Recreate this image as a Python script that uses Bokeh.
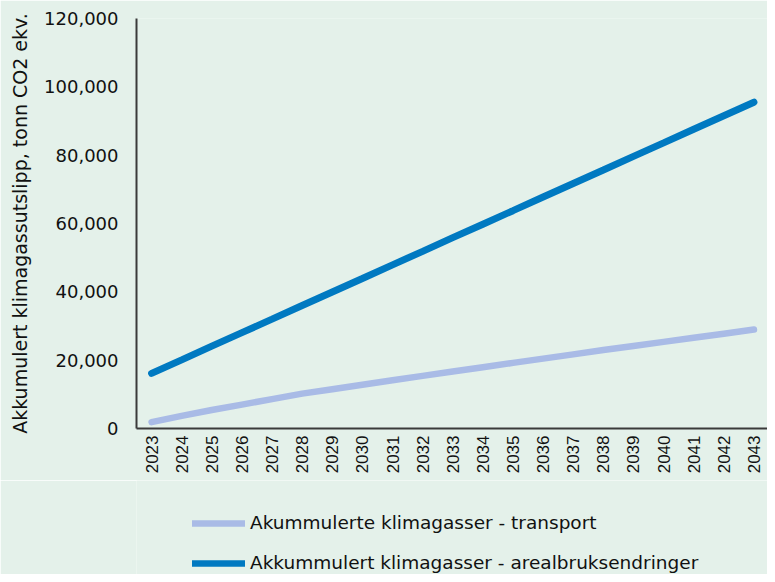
from bokeh.plotting import figure
from bokeh.layouts import column
from bokeh.models import Legend, LegendItem, NumeralTickFormatter, FixedTicker, Range1d
from bokeh.embed import file_html
from bokeh.resources import INLINE

years = list(range(2023, 2044))
transport = [1850, 3700, 5400, 7000, 8600, 10200, 11500, 12800, 14100, 15400,
             16700, 17950, 19200, 20450, 21700, 22950, 24150, 25350, 26550, 27750, 28950]
arealbruk = [16150, 20100, 24100, 28050, 32000, 36000, 39950, 43900, 47900, 51850,
             55850, 59800, 63750, 67750, 71700, 75650, 79650, 83600, 87600, 91550, 95500]
y_ticks = [0, 20000, 40000, 60000, 80000, 100000, 120000]
label_transport = "Akummulerte klimagasser - transport"
label_areal = "Akkummulert klimagasser - arealbruksendringer"
y_title = "Akkumulert klimagassutslipp, tonn CO2 ekv."

BG = "#e4f1ea"
C_TRANSPORT = "#a9bbe6"
C_AREAL = "#0079c1"
LEFT = 136
X_END = 2043.45

p = figure(width=767, height=480, x_range=Range1d(2022.5, X_END), y_range=Range1d(0, 120000),
           output_backend="svg", toolbar_location=None,
           background_fill_color=BG, border_fill_color=BG,
           min_border_left=LEFT, min_border_top=18, min_border_right=0, min_border_bottom=52)
p.outline_line_color = None
p.grid.grid_line_color = None

p.line(years, transport, line_color=C_TRANSPORT, line_width=6.5, line_cap="round")
p.line(years, arealbruk, line_color=C_AREAL, line_width=7, line_cap="round")

p.yaxis.ticker = FixedTicker(ticks=y_ticks)
p.yaxis.formatter = NumeralTickFormatter(format="0,0")
p.yaxis.major_label_text_font = "DejaVu Sans"
p.yaxis.major_label_text_font_size = "18px"
p.yaxis.major_label_text_color = "#111111"
p.yaxis.major_label_standoff = 18
p.yaxis.axis_label = y_title
p.yaxis.axis_label_text_font = "DejaVu Sans"
p.yaxis.axis_label_text_font_size = "19px"
p.yaxis.axis_label_text_font_style = "normal"
p.yaxis.axis_label_text_color = "#111111"
p.yaxis.axis_label_standoff = 10

p.xaxis.ticker = FixedTicker(ticks=years)
p.xaxis.major_label_orientation = 1.5708
p.xaxis.major_label_text_font = "Liberation Sans"
p.xaxis.major_label_text_font_size = "17px"
p.xaxis.major_label_text_color = "#111111"
p.xaxis.major_label_standoff = 7

for ax in (p.xaxis, p.yaxis):
    ax.axis_line_color = "#3a3a3a"
    ax.axis_line_width = 2
    ax.major_tick_line_color = None
    ax.minor_tick_line_color = None
    ax.major_tick_out = 0
    ax.major_tick_in = 0

# legend panel below the chart (series drawn out of view; only legend keys show)
lg = figure(width=767, height=94, x_range=Range1d(2022.5, X_END), y_range=Range1d(200000, 300000),
            output_backend="svg", toolbar_location=None,
            x_axis_location=None, y_axis_location=None,
            background_fill_color=BG, border_fill_color=BG,
            min_border_left=LEFT, min_border_top=0, min_border_right=0, min_border_bottom=0)
lg.outline_line_color = None
lg.grid.grid_line_color = None
k1 = lg.line(years, transport, line_color=C_TRANSPORT, line_width=6.5, line_cap="round")
k2 = lg.line(years, arealbruk, line_color=C_AREAL, line_width=6.5, line_cap="round")
legend = Legend(items=[LegendItem(label=label_transport, renderers=[k1]),
                       LegendItem(label=label_areal, renderers=[k2])],
                location=(56, 1), orientation="vertical",
                glyph_width=53, glyph_height=18, label_height=18, spacing=19,
                label_standoff=5, padding=0, margin=0,
                label_text_font="DejaVu Sans", label_text_font_size="18.5px",
                label_text_color="#111111",
                background_fill_alpha=0, border_line_color=None)
lg.add_layout(legend, "center")

layout = column(p, lg, spacing=0)
open("out.html", "w").write(file_html(layout, INLINE))
